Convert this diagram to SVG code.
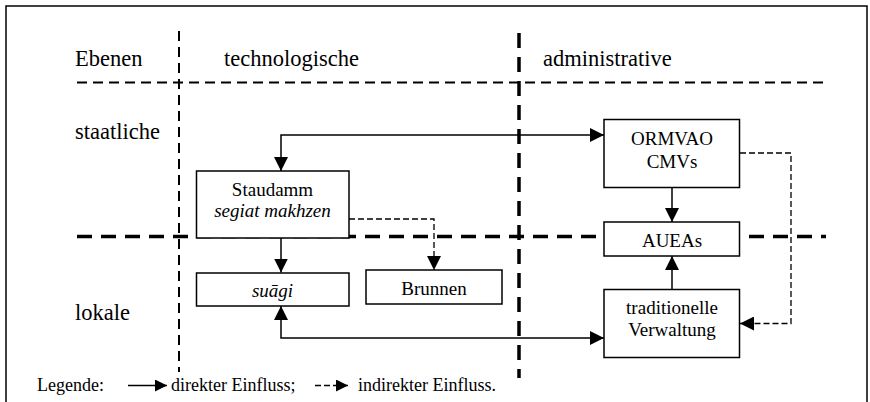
<svg xmlns="http://www.w3.org/2000/svg" width="870" height="402" viewBox="0 0 870 402">
  <style>
    .lbl { font-family: "Liberation Serif", "Times New Roman", serif; font-size: 22.5px; fill: #000; }
    .bt { font-family: "Liberation Serif", "Times New Roman", serif; font-size: 19px; fill: #000; text-anchor: middle; }
    .it { font-style: italic; }
    .leg { font-family: "Liberation Serif", "Times New Roman", serif; font-size: 18px; fill: #000; }
    .box { fill: #fff; stroke: #000; stroke-width: 1.5; }
    .thin { fill: none; stroke: #000; stroke-width: 2; stroke-dasharray: 10 6; }
    .thick { fill: none; stroke: #000; stroke-width: 3.5; stroke-dasharray: 15 9; }
    .conn { fill: none; stroke: #000; stroke-width: 1.5; }
    .dash { fill: none; stroke: #000; stroke-width: 1.3; stroke-dasharray: 6 3; }
  </style>
  <defs>
    <marker id="ah" markerUnits="userSpaceOnUse" markerWidth="15" markerHeight="14" refX="14" refY="7" orient="auto-start-reverse">
      <path d="M0,0 L14,7 L0,14 z" fill="#000"/>
    </marker>
    <marker id="ahs" markerUnits="userSpaceOnUse" markerWidth="13" markerHeight="12" refX="12" refY="6" orient="auto">
      <path d="M0,0 L12,6 L0,12 z" fill="#000"/>
    </marker>
  </defs>

  <!-- frame -->
  <path d="M6,404 V6 H867 V404" fill="none" stroke="#000" stroke-width="1.5"/>

  <!-- grid lines -->
  <g id="grid">
    <line class="thin" x1="77" y1="82.5" x2="826" y2="82.5"/>
    <line class="thin" x1="179" y1="31" x2="179" y2="372"/>
    <line class="thick" x1="519" y1="33" x2="519" y2="378"/>
    <line class="thick" x1="77" y1="236.5" x2="826" y2="236.5"/>
  </g>

  <!-- row/column labels -->
  <g id="labels">
    <text class="lbl" x="75" y="65.5">Ebenen</text>
    <text class="lbl" x="224" y="65.5">technologische</text>
    <text class="lbl" x="543" y="65.5">administrative</text>
    <text class="lbl" x="75" y="138.5">staatliche</text>
    <text class="lbl" x="75" y="320">lokale</text>
  </g>

  <!-- connectors -->
  <g id="connectors">
    <path class="conn" d="M281,171 V135 H604" marker-start="url(#ah)" marker-end="url(#ah)"/>
    <path class="conn" d="M281,238 V272.5" marker-end="url(#ah)"/>
    <path class="conn" d="M281,306 V338 H604" marker-start="url(#ah)" marker-end="url(#ah)"/>
    <path class="conn" d="M672,187.5 V222" marker-end="url(#ah)"/>
    <path class="conn" d="M672,289 V256" marker-end="url(#ah)"/>
    <path class="dash" d="M349,219 H434 V270" marker-end="url(#ah)"/>
    <path class="dash" d="M740,153 H791 V323.5 H740" marker-end="url(#ah)"/>
  </g>

  <!-- nodes -->
  <g id="staudamm">
    <rect class="box" x="196.5" y="171" width="152.5" height="67"/>
    <text class="bt" x="272.5" y="196">Staudamm</text>
    <text class="bt it" x="272.5" y="216.5">segiat makhzen</text>
  </g>
  <g id="suagi">
    <rect class="box" x="196.5" y="273" width="152.5" height="33"/>
    <text class="bt it" x="272.5" y="296.5">suāgi</text>
  </g>
  <g id="brunnen">
    <rect class="box" x="366" y="270" width="136" height="34"/>
    <text class="bt" x="434" y="295">Brunnen</text>
  </g>
  <g id="ormvao">
    <rect class="box" x="604" y="119.5" width="135.5" height="68"/>
    <text class="bt" x="672" y="145">ORMVAO</text>
    <text class="bt" x="672" y="167.5">CMVs</text>
  </g>
  <g id="aueas">
    <rect class="box" x="604" y="222" width="135.5" height="34"/>
    <text class="bt" x="672" y="246.5">AUEAs</text>
  </g>
  <g id="traditionelle">
    <rect class="box" x="604" y="289.5" width="135.5" height="68"/>
    <text class="bt" x="672" y="314">traditionelle</text>
    <text class="bt" x="672" y="335.5">Verwaltung</text>
  </g>

  <!-- legend -->
  <g id="legend">
    <text class="leg" x="37" y="391">Legende:</text>
    <line class="conn" x1="128" y1="385.5" x2="167" y2="385.5" marker-end="url(#ahs)"/>
    <text class="leg" x="171" y="391">direkter Einfluss;</text>
    <line class="dash" x1="315" y1="385.5" x2="348" y2="385.5" stroke-dasharray="5 3" marker-end="url(#ahs)"/>
    <text class="leg" x="358" y="391">indirekter Einfluss.</text>
  </g>
</svg>
